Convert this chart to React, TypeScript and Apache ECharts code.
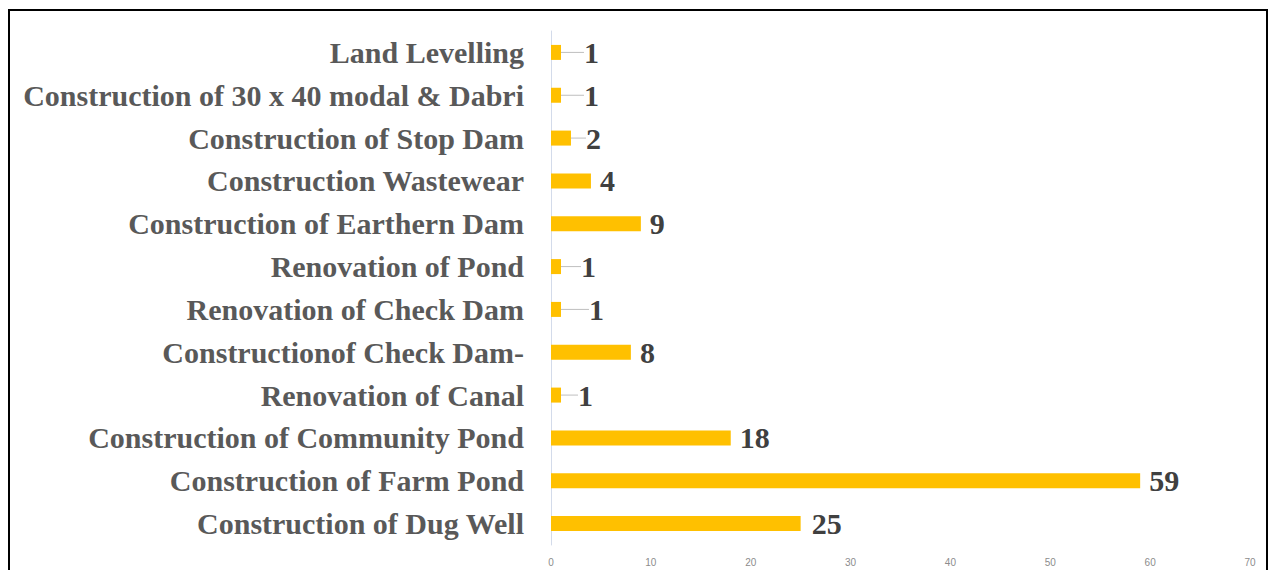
import React, { useEffect, useRef } from "react";
import * as echarts from "echarts";

const categories = [
  "Land Levelling",
  "Construction of 30 x 40 modal & Dabri",
  "Construction of Stop Dam",
  "Construction Wastewear",
  "Construction of Earthern Dam",
  "Renovation of Pond",
  "Renovation of Check Dam",
  "Constructionof Check Dam-",
  "Renovation of Canal",
  "Construction of Community Pond",
  "Construction of Farm Pond",
  "Construction of Dug Well",
];
const values = [1, 1, 2, 4, 9, 1, 1, 8, 1, 18, 59, 25];
const labelShift = [14, 14, 6, 0, 0, 11, 19, 0, 8, 0, 0, 2];
const xTicks = [0, 10, 20, 30, 40, 50, 60, 70];

export default function App() {
  const ref = useRef<HTMLDivElement>(null);
  useEffect(() => {
    if (!ref.current) return;
    const chart = echarts.init(ref.current, null, { renderer: "svg" });
    const data = values.map((v, i) => ({
      value: v,
      labelLine: { show: labelShift[i] > 4 },
    }));
    chart.setOption({
      animation: false,
      backgroundColor: "#ffffff",
      grid: { left: 551, right: 27, top: 31, bottom: 25, containLabel: false },
      xAxis: {
        type: "value",
        min: xTicks[0],
        max: xTicks[xTicks.length - 1],
        interval: 10,
        axisLine: { show: false },
        axisTick: { show: false },
        splitLine: { show: false },
        axisLabel: {
          color: "#8c8c8c",
          fontSize: 10,
          fontFamily: "Liberation Sans",
          margin: 12,
        },
      },
      yAxis: {
        type: "category",
        inverse: true,
        data: categories,
        axisLine: { show: true, lineStyle: { color: "#d3dbea", width: 1 } },
        axisTick: { show: false },
        axisLabel: {
          color: "#595959",
          fontSize: 30,
          fontWeight: "bold",
          fontFamily: "Liberation Serif",
          margin: 27,
        },
      },
      series: [
        {
          type: "bar",
          data,
          barWidth: 15,
          itemStyle: { color: "#FFC000" },
          label: {
            show: true,
            position: "right",
            distance: 9,
            color: "#404040",
            fontSize: 30,
            fontWeight: "bold",
            fontFamily: "Liberation Serif",
          },
          labelLine: { show: true, lineStyle: { color: "#bfbfbf", width: 1 } },
          labelLayout: (params: any) => ({ dx: labelShift[params.dataIndex] || 0 }),
        },
      ],
      graphic: [
        {
          type: "rect",
          shape: { x: 9, y: 10, width: 1258, height: 600 },
          style: { fill: "none", stroke: "#000000", lineWidth: 2 },
          silent: true,
        },
      ],
    });
    return () => chart.dispose();
  }, []);
  return (
    <div
      ref={ref}
      style={{ position: "fixed", left: 0, top: 0, width: 1277, height: 570 }}
    />
  );
}
